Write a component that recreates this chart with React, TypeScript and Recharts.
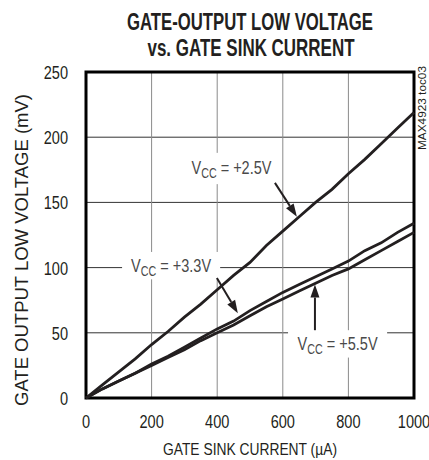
import React from "react";
import {
  LineChart,
  Line,
  XAxis,
  YAxis,
  CartesianGrid,
  ReferenceArea,
  ReferenceLine,
  Customized,
} from "recharts";

const current = [0, 50, 100, 150, 200, 250, 300, 350, 400, 450, 500, 550, 600, 650, 700, 750, 800, 850, 900, 950, 1000];
const vcc25 = [0, 10, 20, 30, 41, 51, 62, 72, 83, 94, 104, 117, 128, 139, 150, 160, 172, 183, 195, 207, 219];
const vcc33 = [0, 7, 13, 19, 26, 32, 39, 46, 53, 59, 67, 74, 81, 87, 93, 99, 105, 113, 119, 127, 134];
const vcc55 = [0, 7, 13, 19, 25, 31, 37, 44, 50, 56, 63, 70, 76, 82, 88, 94, 99, 106, 113, 120, 127];

const xTicks = [0, 200, 400, 600, 800, 1000];
const yTicks = [0, 50, 100, 150, 200, 250];

const titleLines = ["GATE-OUTPUT LOW VOLTAGE", "vs. GATE SINK CURRENT"];
const xLabel = "GATE SINK CURRENT (\u00B5A)";
const yLabel = "GATE OUTPUT LOW VOLTAGE (mV)";
const sideNote = "MAX4923 toc03";

// annotation: label value, box (data coords), arrow from/to (data coords)
const annotations = [
  { v: "+2.5V", box: [302, 585, 164, 188], from: [576, 165], to: [643, 139] },
  { v: "+3.3V", box: [110, 409, 91, 112], from: [399, 92], to: [463, 65] },
  { v: "+5.5V", box: [616, 918, 31, 52], from: [698, 52], to: [698, 87] },
];

const data = current.map((c, i) => ({ current: c, v25: vcc25[i], v33: vcc33[i], v55: vcc55[i] }));

const FONT = "'Liberation Sans', Arial, sans-serif";
const INK = "#231f20";
const DIGIT_W = 8.1;

const boxShape = (v: string) => (props: any) => {
  const { x, y, width, height } = props;
  const cx = x + width / 2;
  const cy = y + height / 2;
  return (
    <g>
      <rect x={x} y={y} width={width} height={height} fill="#fff" />
      <text x={cx} y={cy + 6} textAnchor="middle" fontFamily={FONT} fontSize={19} fill="#4a4a4a"
        textLength={80} lengthAdjust="spacingAndGlyphs">
        <tspan>V</tspan>
        <tspan fontSize={14} dy={4}>CC</tspan>
        <tspan dy={-4}>{" = " + v}</tspan>
      </text>
    </g>
  );
};

const arrowShape = (props: any) => {
  const { x1, y1, x2, y2 } = props;
  const dx = x2 - x1;
  const dy = y2 - y1;
  const len = Math.sqrt(dx * dx + dy * dy) || 1;
  const ux = dx / len;
  const uy = dy / len;
  const hl = 13;
  const hw = 4.5;
  const bx = x2 - ux * hl;
  const by = y2 - uy * hl;
  const pts = `${x2},${y2} ${bx - uy * hw},${by + ux * hw} ${bx + uy * hw},${by - ux * hw}`;
  return (
    <g>
      <line x1={x1} y1={y1} x2={bx} y2={by} stroke={INK} strokeWidth={2} />
      <polygon points={pts} fill={INK} />
    </g>
  );
};

const XTick = (props: any) => {
  const s = String(props.payload.value);
  return (
    <text x={props.x} y={props.y + 30} textAnchor="middle" fontFamily={FONT} fontSize={18} fill={INK}
      textLength={s.length * DIGIT_W} lengthAdjust="spacingAndGlyphs">{s}</text>
  );
};

const YTick = (props: any) => {
  const s = String(props.payload.value);
  return (
    <text x={68} y={props.y + 7} textAnchor="end" fontFamily={FONT} fontSize={18} fill={INK}
      textLength={s.length * DIGIT_W} lengthAdjust="spacingAndGlyphs">{s}</text>
  );
};

const Overlay = () => (
  <g>
    <text x={250} y={30} textAnchor="middle" fontFamily={FONT} fontWeight="bold" fontSize={23} fill={INK}
      textLength={246} lengthAdjust="spacingAndGlyphs">{titleLines[0]}</text>
    <text x={251} y={56} textAnchor="middle" fontFamily={FONT} fontWeight="bold" fontSize={23} fill={INK}
      textLength={207} lengthAdjust="spacingAndGlyphs">{titleLines[1]}</text>
    <text x={250} y={455} textAnchor="middle" fontFamily={FONT} fontSize={17} fill={INK}
      textLength={174} lengthAdjust="spacingAndGlyphs">{xLabel}</text>
    <text x={28} y={250} textAnchor="middle" fontFamily={FONT} fontSize={18} fill={INK}
      textLength={312} lengthAdjust="spacingAndGlyphs"
      transform="rotate(-90, 28, 250)">{yLabel}</text>
    <text x={426} y={108} textAnchor="middle" fontFamily={FONT} fontSize={10} fill={INK}
      textLength={84} lengthAdjust="spacingAndGlyphs"
      transform="rotate(-90, 426, 108)">{sideNote}</text>
  </g>
);

export default function App() {
  return (
    <div style={{ position: "absolute", left: 0, top: 0, width: 429, height: 460, background: "#fff" }}>
      <LineChart width={429} height={460} data={data} margin={{ top: 72, right: 15, bottom: 0, left: 0 }}>
        <CartesianGrid horizontal={true} vertical={false} stroke="#333" strokeWidth={1} />
        <CartesianGrid horizontal={false} vertical={true} stroke="#8a8a8a" strokeWidth={1} />
        <XAxis
          dataKey="current"
          type="number"
          domain={[0, 1000]}
          ticks={xTicks}
          height={62}
          tickLine={false}
          axisLine={false}
          tickSize={0}
          tickMargin={0}
          tick={XTick}
          interval={0}
        />
        <YAxis
          type="number"
          domain={[0, 250]}
          ticks={yTicks}
          width={86}
          tickLine={false}
          axisLine={false}
          tickSize={0}
          tickMargin={0}
          tick={YTick}
          interval={0}
        />
        {annotations.map((a, i) => (
          <ReferenceArea key={"b" + i} x1={a.box[0]} x2={a.box[1]} y1={a.box[2]} y2={a.box[3]}
            ifOverflow="visible" shape={boxShape(a.v)} />
        ))}
        <Line type="linear" dataKey="v25" stroke={INK} strokeWidth={2.8} dot={false} isAnimationActive={false} />
        <Line type="linear" dataKey="v33" stroke={INK} strokeWidth={2.8} dot={false} isAnimationActive={false} />
        <Line type="linear" dataKey="v55" stroke={INK} strokeWidth={2.8} dot={false} isAnimationActive={false} />
        {annotations.map((a, i) => (
          <ReferenceLine key={"a" + i} segment={[{ x: a.from[0], y: a.from[1] }, { x: a.to[0], y: a.to[1] }]}
            ifOverflow="visible" shape={arrowShape} />
        ))}
        <ReferenceArea x1={0} x2={1000} y1={0} y2={250} fill="none" fillOpacity={0} stroke="#000" strokeWidth={3}
          ifOverflow="visible" />
        <Customized component={Overlay} />
      </LineChart>
    </div>
  );
}
